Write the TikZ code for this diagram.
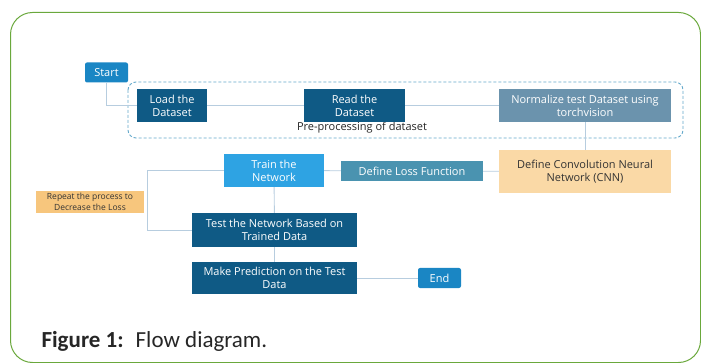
\documentclass[tikz,border=0pt]{standalone}
\usepackage{fontspec}
\setmainfont{Open Sans}
\newfontfamily\capfont{Carlito}
\usetikzlibrary{positioning}

\definecolor{darkblue}{HTML}{0F5A85}
\definecolor{termblue}{HTML}{1A86C4}
\definecolor{trainblue}{HTML}{2EA3E3}
\definecolor{normgray}{HTML}{6B93AD}
\definecolor{lossteal}{HTML}{4A93B0}
\definecolor{cnnorange}{HTML}{FAD9A6}
\definecolor{reporange}{HTML}{F7C67D}
\definecolor{dashblue}{HTML}{62A8CA}
\definecolor{linegray}{HTML}{B7CDDF}
\definecolor{framegreen}{HTML}{6AA83C}

\begin{document}
\begin{tikzpicture}[x=1pt,y=-1pt,
		box/.style={rectangle,inner sep=0pt,align=center,font=\fontsize{11}{13}\selectfont},
		darkbox/.style={box,fill=darkblue,text=white},
		termbox/.style={box,fill=termblue,text=white,rounded corners=2pt,minimum width=43pt,minimum height=20pt},
		trainbox/.style={box,fill=trainblue,text=white},
		normbox/.style={box,fill=normgray,text=white},
		lossbox/.style={box,fill=lossteal,text=white},
		cnnbox/.style={box,fill=cnnorange,text=black!80},
		repeatbox/.style={box,fill=reporange,text=black!80,font=\fontsize{8.5}{11}\selectfont},
		link/.style={draw=linegray,line width=0.9pt}]
		\useasboundingbox (0,0) rectangle (701,363);
		\draw[framegreen,line width=1pt,rounded corners=22pt] (10.5,12.5) rectangle (700.5,362.5);

		% pre-processing group
		\draw[dashblue,line width=0.9pt,dash pattern=on 3pt off 2pt,rounded corners=8pt] (128,82) rectangle (683,138);
		\node[font=\fontsize{11}{13}\selectfont,text=black!85]							(pre)		at (362,128)	{Pre-processing of dataset};

		\node[termbox]																		(start)		at (106.5,72.5)	{Start};
		\node[darkbox,minimum width=70pt,minimum height=33pt]							(load)		at (172,105.5)	{Load the\\Dataset};
		\node[darkbox,minimum width=101pt,minimum height=33pt]							(read)		at (354.5,105.5)	{Read the\\Dataset};
		\node[normbox,minimum width=172pt,minimum height=33pt]							(norm)		at (585,105.5)	{Normalize test Dataset using\\torchvision};
		\node[cnnbox,minimum width=172pt,minimum height=43pt]							(cnn)		at (585,171.5)	{Define Convolution Neural\\Network (CNN)};
		\node[lossbox,minimum width=142pt,minimum height=20pt]							(loss)		at (412,171)	{Define Loss Function};
		\node[trainbox,minimum width=100pt,minimum height=33pt]							(train)		at (274,170.5)	{Train the\\Network};
		\node[repeatbox,minimum width=108pt,minimum height=22pt]						(repeat)	at (90,202)		{Repeat the process to\\Decrease the Loss};
		\node[darkbox,minimum width=165pt,minimum height=34pt]							(test)		at (274.5,230)	{Test the Network Based on\\Trained Data};
		\node[darkbox,minimum width=165pt,minimum height=32pt]							(predict)	at (274.5,278)	{Make Prediction on the Test\\Data};
		\node[termbox]																		(end)		at (439.5,278)	{End};
		\coordinate																		(bend)		at (147,230);

		\draw[link] (start) |- (load);
		\draw[link] (load) -- (read);
		\draw[link] (read) -- (norm);
		\draw[link] (norm) -- (cnn);
		\draw[link] (cnn) -- (loss);
		\draw[link] (loss) -- (train);
		\draw[link] (train) -- (test);
		\draw[link] (test) -- (predict);
		\draw[link] (predict) -- (end);
		\draw[link] (test.west) -- (bend) |- (train.west);

		\node[anchor=base west,font=\capfont\fontsize{23}{26}\selectfont,text=black!85]	(caption)	at (38,347)	{\textbf{Figure 1:}\hspace{12pt}Flow diagram.};
	\end{tikzpicture}
\end{document}
